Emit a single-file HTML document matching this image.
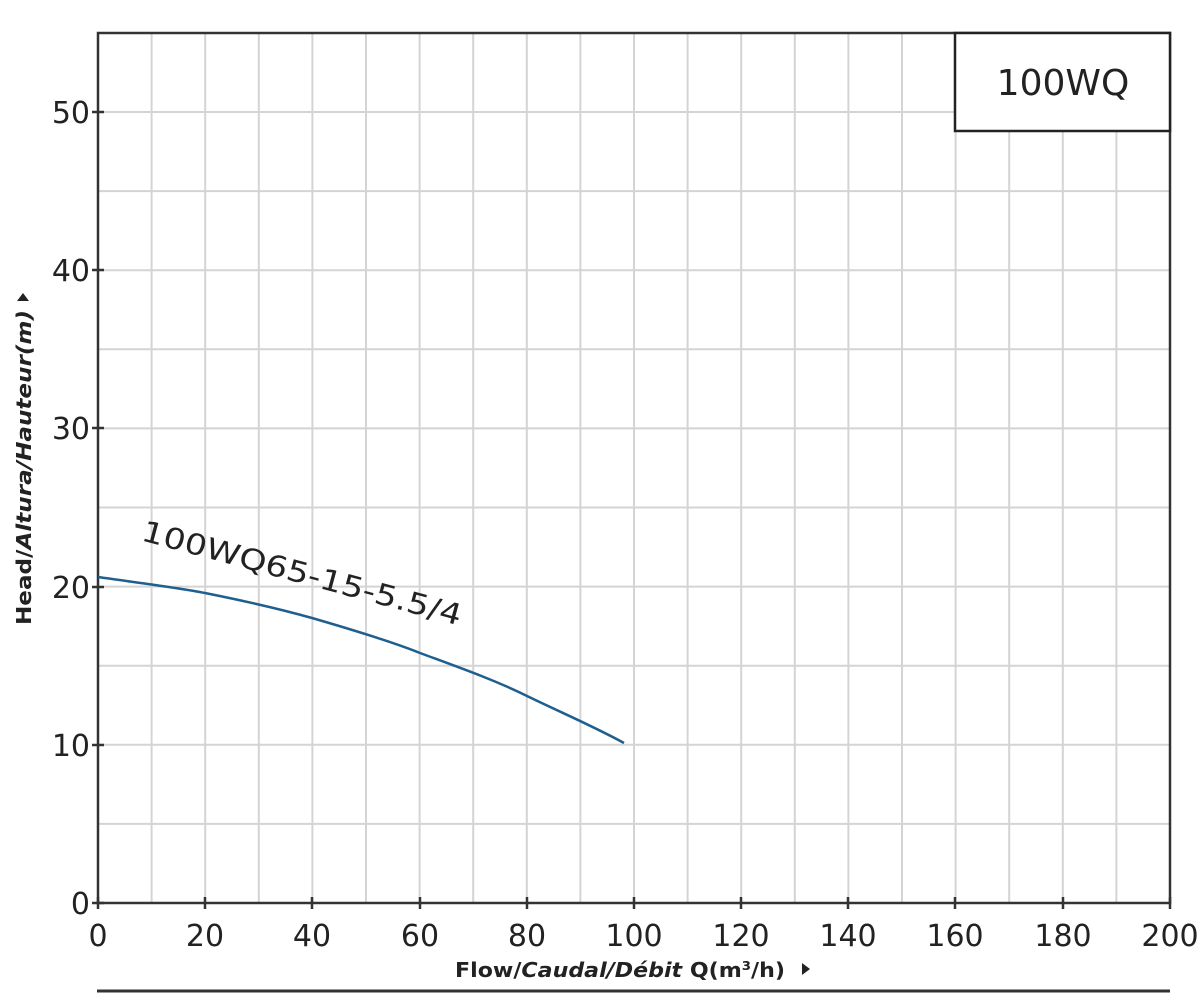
<!DOCTYPE html>
<html><head><style>body{margin:0;background:#fff}svg{display:block}</style></head><body>
<svg width="1197" height="1000" xmlns="http://www.w3.org/2000/svg" font-family="'DejaVu Sans','Liberation Sans',sans-serif">
<g stroke="#d4d4d4" stroke-width="2">
<path d="M151.6 33V903M205.2 33V903M258.8 33V903M312.4 33V903M366 33V903M419.6 33V903M473.2 33V903M526.8 33V903M580.4 33V903M634 33V903M687.6 33V903M741.2 33V903M794.8 33V903M848.4 33V903M902 33V903M955.6 33V903M1009.2 33V903M1062.8 33V903M1116.4 33V903"/>
<path d="M98 823.9H1170M98 744.8H1170M98 665.7H1170M98 586.6H1170M98 507.5H1170M98 428.4H1170M98 349.3H1170M98 270.2H1170M98 191.1H1170M98 112H1170"/>
</g>
<g stroke="#333" stroke-width="2.5" fill="none">
<path d="M98 33H1170V903H98Z"/>
<path d="M92 903H104M92 745H104M92 587H104M92 428H104M92 270H104M92 112H104"/>
<path d="M98 897V909M205 897V909M312 897V909M420 897V909M527 897V909M634 897V909M741 897V909M848 897V909M955 897V909M1063 897V909M1170 897V909"/>
<path d="M97 991H1170" stroke-width="3"/>
</g>
<rect x="955" y="33" width="215" height="98" fill="#fff" stroke="#222" stroke-width="2.5"/>
<text x="1063" y="95" font-size="36" text-anchor="middle" fill="#222">100WQ</text>
<path d="M98 577 C140 583 180 588 205 593 C250 602 280 609 312 618 C350 629 390 641 420 653 C455 666 495 680 527 696 C560 712 595 727 624 743" fill="none" stroke="#1f5f8f" stroke-width="2.5"/>
<text x="140" y="540" font-size="29" fill="#222" transform="rotate(15 140 540)" textLength="330" lengthAdjust="spacingAndGlyphs">100WQ65-15-5.5/4</text>
<g font-size="30" fill="#222" text-anchor="end">
<text x="90" y="914">0</text><text x="90" y="756">10</text><text x="90" y="598">20</text><text x="90" y="439">30</text><text x="90" y="281">40</text><text x="90" y="123">50</text>
</g>
<g font-size="30" fill="#222" text-anchor="middle">
<text x="98" y="946">0</text><text x="205" y="946">20</text><text x="312" y="946">40</text><text x="420" y="946">60</text><text x="527" y="946">80</text><text x="634" y="946">100</text><text x="741" y="946">120</text><text x="848" y="946">140</text><text x="955" y="946">160</text><text x="1063" y="946">180</text><text x="1170" y="946">200</text>
</g>
<text x="455" y="977" font-size="20" font-weight="bold" fill="#222" textLength="330" lengthAdjust="spacingAndGlyphs">Flow/<tspan font-style="italic">Caudal/Débit</tspan> Q(m<tspan font-size="12" dy="-7">3</tspan><tspan dy="7">/h)</tspan></text>
<path d="M802 963L810 969L802 975Z" fill="#222"/>
<text transform="translate(31 625) rotate(-90)" font-size="20" font-weight="bold" fill="#222" textLength="315" lengthAdjust="spacingAndGlyphs">Head/<tspan font-style="italic">Altura/Hauteur(m)</tspan></text>
<path d="M17 301L23 293L29 301Z" fill="#222"/>
</svg>
</body></html>
